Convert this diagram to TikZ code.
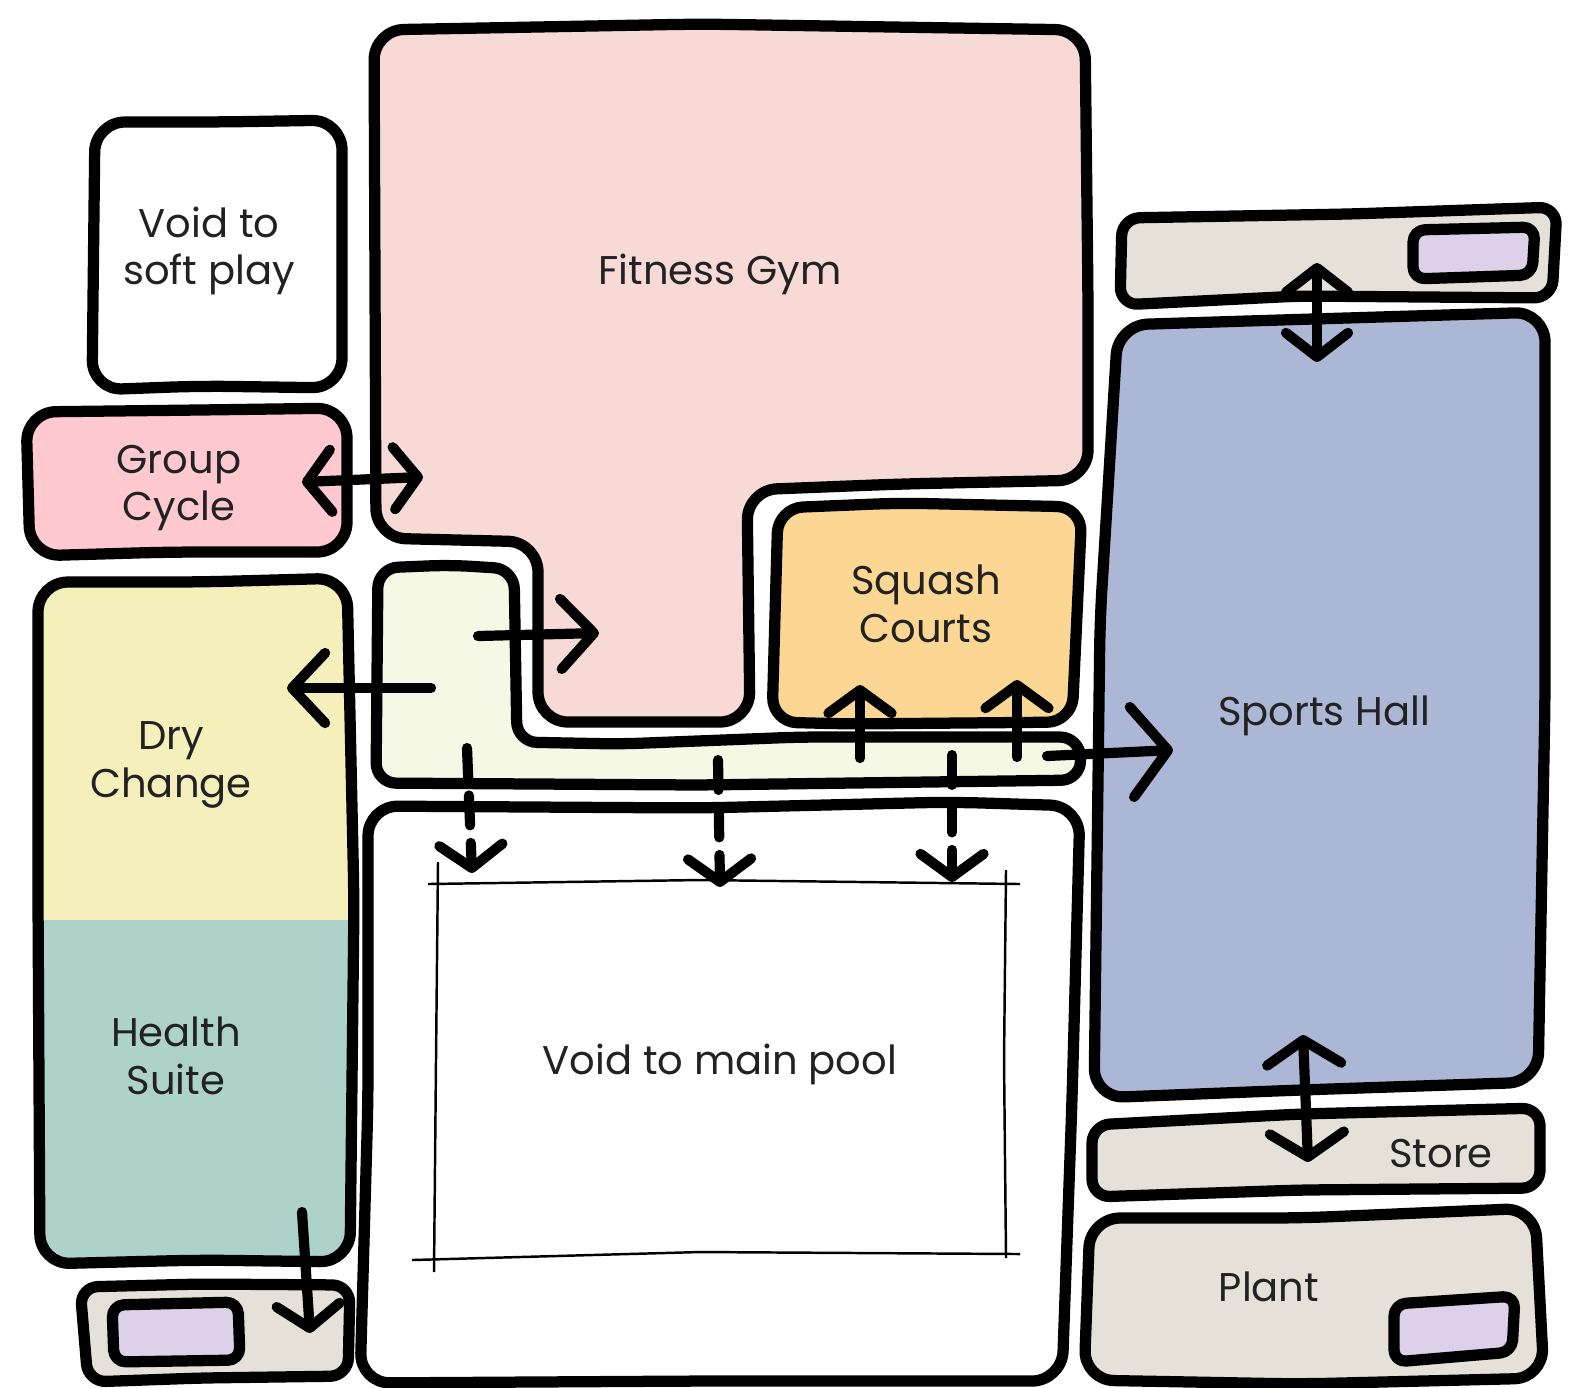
\documentclass[tikz,border=0pt]{standalone}
\usepackage{fontspec}
\setmainfont{Poppins}
\usepackage{xcolor}
\usetikzlibrary{arrows.meta}
\definecolor{gymcol}{HTML}{F7D9D5}
\definecolor{cyclecol}{HTML}{FFC9CF}
\definecolor{drycol}{HTML}{F5EFBC}
\definecolor{healthcol}{HTML}{ACD2C9}
\definecolor{corridorcol}{HTML}{F4F8E4}
\definecolor{squashcol}{HTML}{FBD793}
\definecolor{hallcol}{HTML}{ABB7D4}
\definecolor{storecol}{HTML}{E6E1D8}
\definecolor{liftcol}{HTML}{DDD0E8}
\definecolor{inkcol}{HTML}{222222}
\tikzset{
  room/.style={draw=black,line width=3.2pt,rounded corners=3mm,line join=round},
  lift/.style={room,fill=liftcol,rounded corners=1.2mm},
  lbl/.style={align=center,text=inkcol,font=\fontsize{11.4pt}{13.6pt}\selectfont,inner sep=0pt},
  flow/.style={line width=2.9pt,line cap=round,-{Straight Barb[length=2.3mm,width=6.3mm,round]}},
  flowbig/.style={line width=2.9pt,line cap=round,-{Straight Barb[length=3.3mm,width=7mm,round]}},
  flowb/.style={line width=2.9pt,line cap=round,{Straight Barb[length=2.4mm,width=6.2mm,round]}-{Straight Barb[length=2.4mm,width=6.2mm,round]}},
  flowd/.style={flow,dash pattern=on 8.5pt off 5pt},
  thin/.style={line width=0.7pt}
}
\begin{document}
\begin{tikzpicture}[x=0.01cm,y=-0.01cm]
\useasboundingbox (0,0) rectangle (1574,1387);
% rooms
\draw[room,fill=gymcol] (374,30) -- (700,24) -- (1085,30) -- (1088,300) -- (1088,480) -- (900,484) -- (747,490) -- (750,722) -- (538,722) -- (538,542) -- (376,538) -- cycle;
\draw[room,fill=white] (95,122) -- (220,122) -- (342,120) -- (342,388) -- (200,386) -- (92,390) -- cycle;
\draw[room,fill=cyclecol] (26,412) -- (200,410) -- (347,408) -- (347,552) -- (170,552) -- (30,556) -- cycle;
\draw[room,fill=drycol,path picture={\fill[healthcol] (0,920) rectangle (400,1300);}] (38,582) -- (200,582) -- (347,578) -- (354,900) -- (350,1262) -- (200,1260) -- (40,1264) -- (38,900) -- cycle;
\draw[room,fill=corridorcol,rounded corners=2mm] (378,568) -- (450,565) -- (514,569) -- (517,742) -- (620,744) -- (800,737) -- (1080,737) -- (1081,780) -- (700,785) -- (376,783) -- cycle;
\draw[room,fill=squashcol,rounded corners=2.5mm] (778,508) -- (900,503) -- (1082,507) -- (1072,722) -- (850,724) -- (772,722) -- cycle;
\draw[room,fill=white] (368,806) -- (700,808) -- (950,802) -- (1080,806) -- (1072,1100) -- (1062,1381) -- (700,1381) -- (360,1383) -- (368,1100) -- cycle;
\draw[room,fill=hallcol] (1118,325) -- (1280,320) -- (1545,312) -- (1545,700) -- (1538,1082) -- (1300,1090) -- (1094,1098) -- (1100,620) -- cycle;
\draw[room,fill=storecol,rounded corners=1.8mm] (1122,218) -- (1350,214) -- (1557,207) -- (1552,298) -- (1300,296) -- (1120,305) -- cycle;
\draw[room,fill=storecol,rounded corners=1.8mm] (1092,1125) -- (1300,1114) -- (1540,1108) -- (1540,1188) -- (1300,1190) -- (1092,1197) -- cycle;
\draw[room,fill=storecol] (1090,1218) -- (1300,1218) -- (1535,1208) -- (1544,1378) -- (1300,1384) -- (1084,1380) -- cycle;
\draw[room,fill=storecol,rounded corners=1.8mm] (80,1287) -- (200,1284) -- (350,1285) -- (348,1376) -- (200,1378) -- (88,1382) -- cycle;
\draw[lift] (1413,230) -- (1535,227) -- (1532,275) -- (1413,279) -- cycle;
\draw[lift] (1394,1304) -- (1515,1296) -- (1512,1352) -- (1394,1362) -- cycle;
\draw[lift] (112,1305) -- (238,1302) -- (240,1360) -- (114,1362) -- cycle;
% pool edge
\draw[thin] (428,884) -- (700,880) -- (1020,884);
\draw[thin] (438,862) -- (436,1060) -- (434,1272);
\draw[thin] (1006,870) -- (1004,1060) -- (1006,1258);
\draw[thin] (412,1260) -- (700,1252) -- (1020,1254);
% labels
\node[lbl] (softplay) at (209,251) {Void to\\soft play};
\node[lbl] (groupcycle) at (179,488) {Group\\Cycle};
\node[lbl] (fitnessgym) at (720,274) {Fitness Gym};
\node[lbl] (drychange) at (171,765) {Dry\\Change};
\node[lbl] (healthsuite) at (176,1056) {Health\\Suite};
\node[lbl] (squashcourts) at (926,604) {Squash\\Courts};
\node[lbl] (sportshall) at (1324,716) {Sports Hall};
\node[lbl] (mainpool) at (720,1064) {Void to main pool};
\node[lbl] (store) at (1441,1153) {Store};
\node[lbl] (plant) at (1269,1287) {Plant};
% arrow ends
\coordinate (cycleL) at (302,482); \coordinate (cycleR) at (423,477);
\coordinate (gymA) at (478,636); \coordinate (gymB) at (599,633);
\coordinate (dryA) at (431,688); \coordinate (dryB) at (287,688);
\coordinate (poolA) at (467,748); \coordinate (poolB) at (472,873);
\coordinate (poolC) at (718,760); \coordinate (poolD) at (720,887);
\coordinate (poolE) at (952,755); \coordinate (poolF) at (952,882);
\coordinate (sqA) at (860,758); \coordinate (sqB) at (860,685);
\coordinate (sqC) at (1017,757); \coordinate (sqD) at (1017,680);
\coordinate (hallA) at (1047,756); \coordinate (hallB) at (1173,750);
\coordinate (topA) at (1317,263); \coordinate (topB) at (1317,362);
\coordinate (lowA) at (1303,1035); \coordinate (lowB) at (1308,1162);
\coordinate (healthA) at (302,1212); \coordinate (healthB) at (310,1333);
% arrows
\draw[flowb] (cycleL) -- (cycleR);
\draw[flowbig] (gymA) -- (gymB);
\draw[flowbig] (dryA) -- (dryB);
\draw[flowd] (poolA) -- (poolB);
\draw[flowd] (poolC) -- (poolD);
\draw[flowd] (poolE) -- (poolF);
\draw[flow] (sqA) -- (sqB);
\draw[flow] (sqC) -- (sqD);
\draw[flow,-{Straight Barb[length=3.6mm,width=9mm,round]}] (hallA) -- (hallB);
\draw[flowb] (topA) -- (topB);
\draw[flowb,{Straight Barb[length=2.4mm,width=7.4mm,round]}-{Straight Barb[length=2.4mm,width=7.4mm,round]}] (lowA) -- (lowB);
\draw[flow] (healthA) -- (healthB);
\end{tikzpicture}
\end{document}
